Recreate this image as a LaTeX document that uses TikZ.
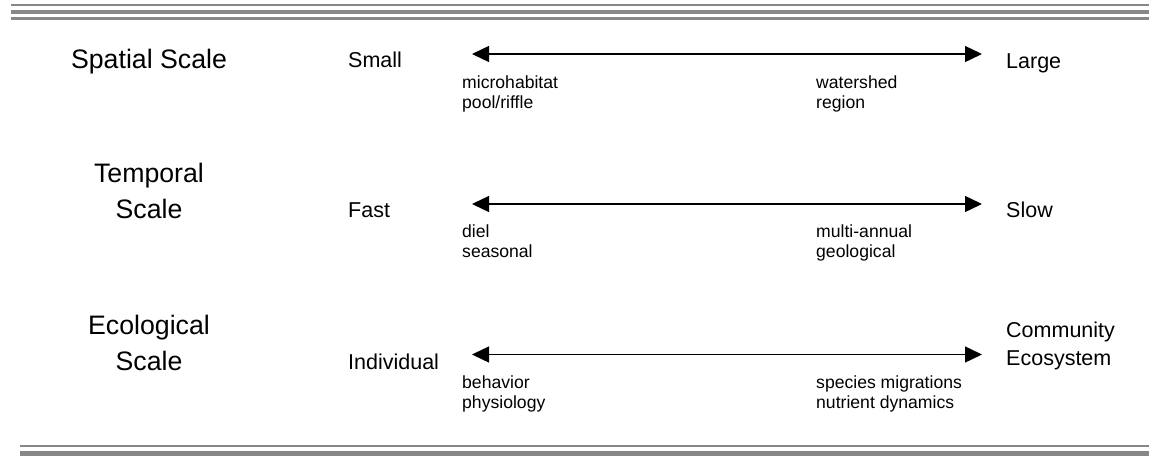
\documentclass[tikz,border=0pt]{standalone}
\usepackage{fontspec}
\setmainfont{Liberation Sans}
\usetikzlibrary{arrows.meta}
\definecolor{ruleGray}{HTML}{878787}

\begin{document}
\begin{tikzpicture}[x=1pt,y=-1pt,
  scalename/.style={anchor=base,inner sep=0pt,align=center,font=\fontsize{26.7}{36}\selectfont},
  endlabel/.style={anchor=base west,inner sep=0pt,align=left,font=\fontsize{21.5}{28}\selectfont},
  example/.style={anchor=base west,inner sep=0pt,align=left,font=\fontsize{17.6}{20}\selectfont},
  scalearrow/.style={line width=1.4pt,{Triangle[length=17pt,width=16pt]}-{Triangle[length=17pt,width=16pt]}},
  rule/.style={draw=ruleGray,line width=#1}]
\useasboundingbox (0,0) rectangle (1149,458);

% top and bottom rules
\draw[rule=2.3pt] (11,5.2) -- (1149,5.2);
\draw[rule=4pt] (11,12) -- (1149,12);
\draw[rule=3pt] (11,18.2) -- (1149,18.2);
\draw[rule=2.6pt] (20,446) -- (1149,446);
\draw[rule=5.3pt] (20,453.3) -- (1149,453.3);

% spatial (base of a two-line node = its last line)
\node[scalename] (spatial) at (149,68.3) {Spatial Scale};
\node[endlabel] (small) at (348,67.3) {Small};
\node[endlabel] (large) at (1006,68.3) {Large};
\coordinate (sL) at (472,54);
\coordinate (sR) at (982,54);
\draw[scalearrow] (sL) -- (sR);
\node[example] (micro) at (462,108.3) {microhabitat\\pool/riffle};
\node[example] (water) at (816,108.3) {watershed\\region};

% temporal
\node[scalename] (temporal) at (149,218.3) {Temporal\\Scale};
\node[endlabel] (fast) at (348,217.3) {Fast};
\node[endlabel] (slow) at (1006,217.3) {Slow};
\coordinate (tL) at (472,204);
\coordinate (tR) at (982,204);
\draw[scalearrow] (tL) -- (tR);
\node[example] (diel) at (462,257.3) {diel\\seasonal};
\node[example] (multi) at (816,257.3) {multi-annual\\geological};

% ecological
\node[scalename] (ecological) at (149,370) {Ecological\\Scale};
\node[endlabel] (indiv) at (348,369.3) {Individual};
\node[endlabel] (commun) at (1006,365) {Community\\Ecosystem};
\coordinate (eL) at (472,354.5);
\coordinate (eR) at (982,354.5);
\draw[scalearrow] (eL) -- (eR);
\node[example] (behav) at (462,408.3) {behavior\\physiology};
\node[example] (species) at (816,408.3) {species migrations\\nutrient dynamics};

\end{tikzpicture}
\end{document}
